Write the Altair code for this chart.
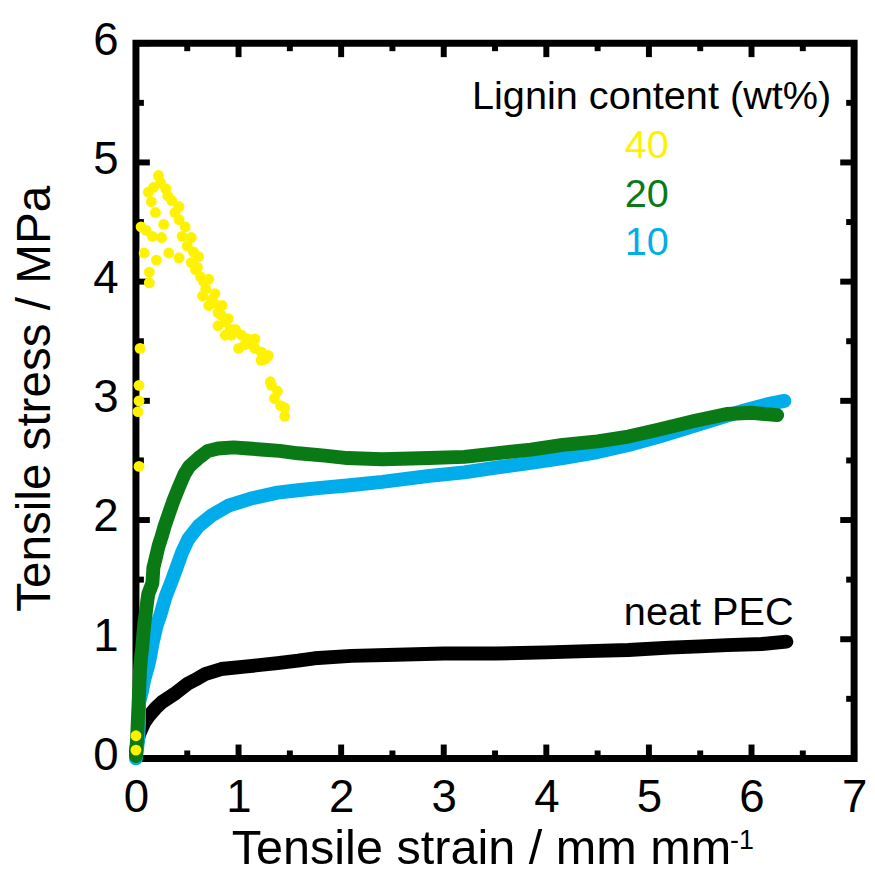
import altair as alt
import pandas as pd

FONT = "Liberation Sans"

# ---------------- data ----------------
x_major = [0, 1, 2, 3, 4, 5, 6, 7]
x_minor = [0.5, 1.5, 2.5, 3.5, 4.5, 5.5, 6.5]
y_major = [0, 1, 2, 3, 4, 5, 6]
y_minor = [0.5, 1.5, 2.5, 3.5, 4.5, 5.5]

neat_x = [0.0, 0.01, 0.03, 0.08, 0.13, 0.19, 0.25, 0.32, 0.39, 0.45, 0.51, 0.6,
          0.68, 0.83, 1.06, 1.38, 1.58, 1.74, 2.1, 2.54, 3.0, 3.51, 4.0, 4.4,
          4.8, 5.2, 5.5, 5.76, 6.1, 6.34]
neat_y = [0.05, 0.12, 0.2, 0.3, 0.36, 0.42, 0.47, 0.51, 0.55, 0.59, 0.63, 0.67,
          0.71, 0.75, 0.77, 0.8, 0.82, 0.84, 0.86, 0.87, 0.88, 0.88, 0.89, 0.9,
          0.91, 0.93, 0.94, 0.95, 0.96, 0.98]

l10_x = [0.0, 0.02, 0.03, 0.03, 0.06, 0.08, 0.12, 0.14, 0.16, 0.2, 0.24, 0.29,
         0.34, 0.4, 0.45, 0.51, 0.61, 0.74, 0.9, 1.12, 1.38, 1.58, 1.8, 2.06,
         2.4, 2.86, 3.2, 3.51, 3.85, 4.16, 4.5, 4.8, 5.1, 5.44, 5.7, 5.93,
         6.15, 6.32]
l10_y = [0.0, 0.15, 0.3, 0.47, 0.57, 0.66, 0.78, 0.86, 0.96, 1.11, 1.21, 1.36,
         1.47, 1.61, 1.73, 1.84, 1.95, 2.04, 2.12, 2.18, 2.23, 2.25, 2.27, 2.29,
         2.32, 2.37, 2.4, 2.44, 2.48, 2.52, 2.57, 2.63, 2.7, 2.79, 2.86, 2.92,
         2.97, 3.0]

l20_x = [0.0, 0.01, 0.04, 0.05, 0.06, 0.08, 0.1, 0.11, 0.12, 0.16, 0.17, 0.19,
         0.22, 0.25, 0.28, 0.32, 0.36, 0.42, 0.47, 0.52, 0.61, 0.7, 0.8, 0.95,
         1.1, 1.25, 1.4, 1.58, 1.84, 2.06, 2.4, 2.86, 3.2, 3.51, 3.85, 4.16,
         4.5, 4.8, 5.1, 5.44, 5.76, 6.0, 6.25]
l20_y = [0.02, 0.15, 0.75, 0.85, 0.92, 1.12, 1.25, 1.32, 1.38, 1.47, 1.6, 1.67,
         1.78, 1.86, 1.95, 2.05, 2.15, 2.28, 2.38, 2.45, 2.52, 2.58, 2.6, 2.61,
         2.6, 2.59, 2.58, 2.56, 2.54, 2.52, 2.51, 2.52, 2.53, 2.56, 2.59, 2.63,
         2.66, 2.7, 2.76, 2.83, 2.89, 2.9, 2.88]

l40_x = [0.0, 0.0, 0.03, 0.02, 0.03, 0.03, 0.04, 0.13, 0.13, 0.08, 0.2, 0.1,
         0.05, 0.16, 0.25, 0.15, 0.19, 0.17, 0.22, 0.29, 0.35, 0.42, 0.27, 0.42,
         0.48, 0.45, 0.54, 0.32, 0.42, 0.54, 0.61, 0.58, 0.63, 0.71, 0.68, 0.65,
         0.74, 0.77, 0.71, 0.8, 0.84, 0.8, 0.87, 0.9, 0.87, 0.93, 0.97, 1.0,
         1.03, 1.06, 1.09, 1.16, 1.16, 1.22, 1.22, 1.26, 1.29, 1.31, 1.32, 1.35,
         1.38, 1.41, 1.45, 1.45, 0.5, 0.56, 0.6, 0.66, 0.76, 0.83, 0.92, 1.12,
         0.38, 0.31, 0.24, 0.12]
l40_y = [0.07, 0.19, 2.45, 2.91, 3.0, 3.13, 3.44, 3.99, 4.08, 4.24, 4.18, 4.43,
         4.46, 4.38, 4.37, 4.67, 4.58, 4.79, 4.89, 4.78, 4.68, 4.63, 4.48, 4.52,
         4.46, 4.38, 4.37, 4.24, 4.2, 4.16, 4.21, 4.1, 4.04, 4.02, 3.94, 3.88,
         3.85, 3.9, 3.8, 3.74, 3.8, 3.63, 3.66, 3.69, 3.55, 3.55, 3.6, 3.44,
         3.55, 3.47, 3.52, 3.44, 3.52, 3.41, 3.34, 3.35, 3.38, 3.16, 3.13, 3.02,
         3.08, 2.96, 2.87, 2.94, 4.3, 4.25, 4.12, 4.0, 3.82, 3.72, 3.6, 3.48,
         4.58, 4.72, 4.83, 4.75]

series_colors = {"neat PEC": "#000000", "10": "#00ADEA", "20": "#0A7A16", "40": "#FFF200"}

x_title = "Tensile strain / mm mm"
x_title_sup = "-1"
y_title = "Tensile stress / MPa"
legend_title = "Lignin content (wt%)"
legend_labels = ["40", "20", "10"]
neat_label = "neat PEC"

# ---------------- chart ----------------
W, H = 724, 721
xscale = alt.Scale(domain=[0, 7], nice=False, zero=False)
yscale = alt.Scale(domain=[0, 6], nice=False, zero=False)

X_AXIS = alt.Axis(values=x_major, title=x_title, grid=False, ticks=False, tickSize=0,
                  domain=False, labelFontSize=46, labelFont=FONT, labelColor="black",
                  labelPadding=18, labelAngle=0, labelFlush=False, labelOverlap=False,
                  titleFont=FONT, titleFontSize=49, titleFontWeight="normal",
                  titleColor="black", titleAlign="left", titleX=96, titleY=106,
                  titleBaseline="alphabetic")
Y_AXIS = alt.Axis(values=y_major, title=y_title, grid=False, ticks=False, tickSize=0,
                  domain=False, labelFontSize=46, labelFont=FONT, labelColor="black",
                  labelPadding=18, labelOffset=-3, labelFlush=False, labelOverlap=False,
                  titleFont=FONT, titleFontSize=48, titleFontWeight="normal",
                  titleColor="black", titleAngle=270, titleAlign="center",
                  titleX=-87, titleY=358, titleBaseline="alphabetic")

layers = []

# inner ticks on all four sides
def tick_layers(vals, length):
    dfv = pd.DataFrame({"x": vals})
    c = alt.Chart(dfv).mark_rule(color="black", strokeWidth=6)
    xs = alt.X("x:Q", scale=xscale, axis=X_AXIS)
    return [
        c.encode(x=xs, y=alt.value(H), y2=alt.value(H - length)),
        c.encode(x=xs, y=alt.value(0), y2=alt.value(length)),
    ]

def ytick_layers(vals, length):
    dfv = pd.DataFrame({"y": vals})
    c = alt.Chart(dfv).mark_rule(color="black", strokeWidth=6)
    ys = alt.Y("y:Q", scale=yscale, axis=Y_AXIS)
    return [
        c.encode(y=ys, x=alt.value(0), x2=alt.value(length)),
        c.encode(y=ys, x=alt.value(W), x2=alt.value(W - length)),
    ]

def data_layers(xs, ys, color, line=True, size=110):
    df = pd.DataFrame({"x": xs, "y": ys, "i": list(range(len(xs)))})
    base = alt.Chart(df).encode(
        x=alt.X("x:Q", scale=xscale, axis=X_AXIS),
        y=alt.Y("y:Q", scale=yscale, axis=Y_AXIS),
    )
    out = []
    if line:
        out.append(base.mark_line(color=color, strokeWidth=14, strokeCap="round",
                                  strokeJoin="round").encode(order="i:Q"))
    out.append(base.mark_circle(color=color, size=size, opacity=1))
    return out

layers += data_layers(neat_x, neat_y, series_colors["neat PEC"])
layers += tick_layers(x_major, 14) + tick_layers(x_minor, 8)
layers += ytick_layers(y_major, 14) + ytick_layers(y_minor, 8)
layers += data_layers(l10_x, l10_y, series_colors["10"])
layers += data_layers(l20_x, l20_y, series_colors["20"])
layers += data_layers(l40_x, l40_y, series_colors["40"], line=False, size=120)

def text_layer(txt, px, py, size, color="black", align="center"):
    return alt.Chart(pd.DataFrame({"t": [txt]})).mark_text(
        font=FONT, fontSize=size, color=color, align=align, baseline="alphabetic"
    ).encode(x=alt.value(px), y=alt.value(py), text="t:N")

layers.append(text_layer(legend_title, 701, 66, 40, align="right"))
for lab, py in zip(legend_labels, [116, 165, 213]):
    layers.append(text_layer(lab, 515, py, 40, color=series_colors[lab]))
layers.append(text_layer(neat_label, 663, 586, 40, align="right"))
layers.append(text_layer(x_title_sup, 599, 812, 27, align="left"))

chart = alt.layer(*layers).properties(
    width=W, height=H,
    autosize=alt.AutoSizeParams(type="none"),
    padding={"left": 129, "top": 32, "right": 13, "bottom": 115},
).configure_view(stroke="black", strokeWidth=7)

chart.save("out.html", embed_options={"renderer": "svg", "actions": False})
